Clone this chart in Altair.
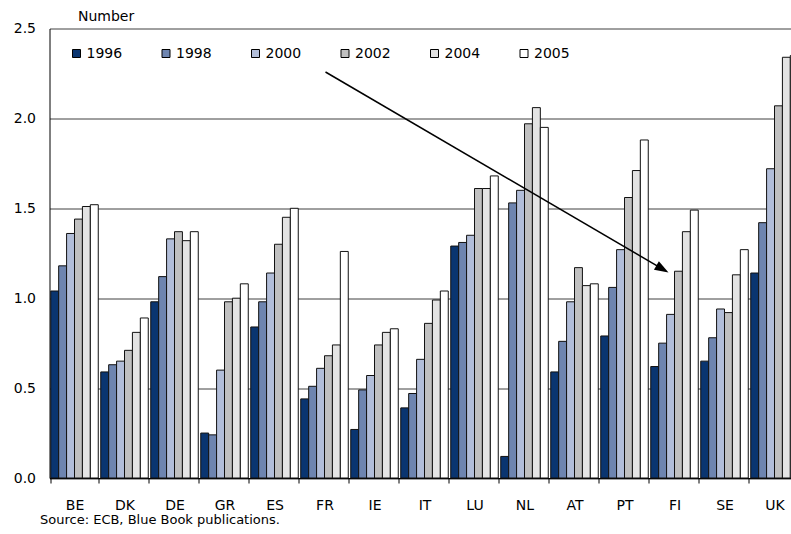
import math
import altair as alt
import pandas as pd

# Payment-card terminals per country and year (number)
countries = ["BE", "DK", "DE", "GR", "ES", "FR", "IE", "IT", "LU", "NL",
             "AT", "PT", "FI", "SE", "UK"]
years = ["1996", "1998", "2000", "2002", "2004", "2005"]

v1996 = [1.04, 0.59, 0.98, 0.25, 0.84, 0.44, 0.27, 0.39, 1.29, 0.12, 0.59, 0.79, 0.62, 0.65, 1.14]
v1998 = [1.18, 0.63, 1.12, 0.24, 0.98, 0.51, 0.49, 0.47, 1.31, 1.53, 0.76, 1.06, 0.75, 0.78, 1.42]
v2000 = [1.36, 0.65, 1.33, 0.60, 1.14, 0.61, 0.57, 0.66, 1.35, 1.60, 0.98, 1.27, 0.91, 0.94, 1.72]
v2002 = [1.44, 0.71, 1.37, 0.98, 1.30, 0.68, 0.74, 0.86, 1.61, 1.97, 1.17, 1.56, 1.15, 0.92, 2.07]
v2004 = [1.51, 0.81, 1.32, 1.00, 1.45, 0.74, 0.81, 0.99, 1.61, 2.06, 1.07, 1.71, 1.37, 1.13, 2.34]
v2005 = [1.52, 0.89, 1.37, 1.08, 1.50, 1.26, 0.83, 1.04, 1.68, 1.95, 1.08, 1.88, 1.49, 1.27, 2.35]

colors = ["#0a3570", "#6e85b0", "#b2bed9", "#c0c0c0", "#e3e3e3", "#ffffff"]
source_note = "Source: ECB, Blue Book publications."

series = [v1996, v1998, v2000, v2002, v2004, v2005]
rows = []
for year, vals in zip(years, series):
    for c, v in zip(countries, vals):
        rows.append({"country": c, "year": year, "value": v})
df = pd.DataFrame(rows)

FONT = "DejaVu Sans"
W, H = 741, 449.5      # visible plot area; the band range runs a little past the edge
RANGE_W = 750

x_enc = alt.X(
    "country:N", sort=countries, title=None,
    scale=alt.Scale(range=[0, RANGE_W], paddingInner=0.05, paddingOuter=0.025),
    axis=alt.Axis(labelAngle=0, labelFontSize=14, labelFont=FONT, labelColor="black",
                  tickBand="extent", tickSize=5, tickColor="black", domainColor="black",
                  labelPadding=15, grid=False),
)

bars = alt.Chart(df).mark_bar(stroke="#111111", strokeWidth=1).encode(
    x=x_enc,
    xOffset=alt.XOffset("year:N", sort=years, scale=alt.Scale(paddingInner=0, paddingOuter=0)),
    y=alt.Y(
        "value:Q", title="Number",
        scale=alt.Scale(domain=[0, 2.5], nice=False),
        axis=alt.Axis(values=[0, 0.5, 1.0, 1.5, 2.0, 2.5], format=".1f",
                      labelFontSize=14, labelFont=FONT, labelColor="black",
                      labelPadding=14, ticks=False, domainColor="black",
                      grid=True, gridColor="#404040", gridWidth=1,
                      titleAngle=0, titleX=28, titleY=-12, titleAlign="left",
                      titleBaseline="middle", titleFont=FONT, titleFontSize=14,
                      titleFontWeight="normal", titleColor="black"),
    ),
    fill=alt.Fill(
        "year:N", sort=years,
        scale=alt.Scale(domain=years, range=colors),
        legend=alt.Legend(title=None, orient="none", legendX=20, legendY=18,
                          direction="horizontal", symbolType="square", symbolSize=64,
                          symbolStrokeColor="black", symbolStrokeWidth=1,
                          symbolOpacity=1, labelFontSize=14, labelFont=FONT,
                          labelColor="black", labelOffset=3, columnPadding=36.5,
                          padding=0),
    ),
)

# Annotation arrow drawn across the plot
ax0, ay0 = 276.0, 43.5
ax1, ay1 = 619.0, 244.0
length = math.hypot(ax1 - ax0, ay1 - ay0)
ux, uy = (ax1 - ax0) / length, (ay1 - ay0) / length
head = 196
r = math.sqrt(head) / 2
angle = math.degrees(math.atan2(ay1 - ay0, ax1 - ax0))

note_df = pd.DataFrame({"label": [source_note]})

arrow_line = alt.Chart(note_df).mark_rule(color="black", strokeWidth=1.5).encode(
    x=alt.value(ax0), y=alt.value(ay0),
    x2=alt.value(ax1 - 1.6 * r * ux), y2=alt.value(ay1 - 1.6 * r * uy),
)
arrow_head = alt.Chart(note_df).mark_point(
    shape="M1,0L-1,-0.7L-1,0.7Z", filled=True, color="black", opacity=1,
    size=head, angle=angle,
).encode(x=alt.value(ax1 - r * ux), y=alt.value(ay1 - r * uy))

source = alt.Chart(note_df).mark_text(
    align="left", baseline="middle", font=FONT, fontSize=13, color="black",
).encode(x=alt.value(-9.5), y=alt.value(491.5), text="label:N")

chart = (
    alt.layer(bars, arrow_line, arrow_head, source)
    .properties(
        width=W, height=H,
        autosize=alt.AutoSizeParams(type="none"),
        padding={"left": 49.5, "top": 28.5, "right": 0, "bottom": 56},
        background="white",
    )
    .configure_view(stroke=None)
)

chart.save("out.html", embed_options={"renderer": "svg", "actions": False})
